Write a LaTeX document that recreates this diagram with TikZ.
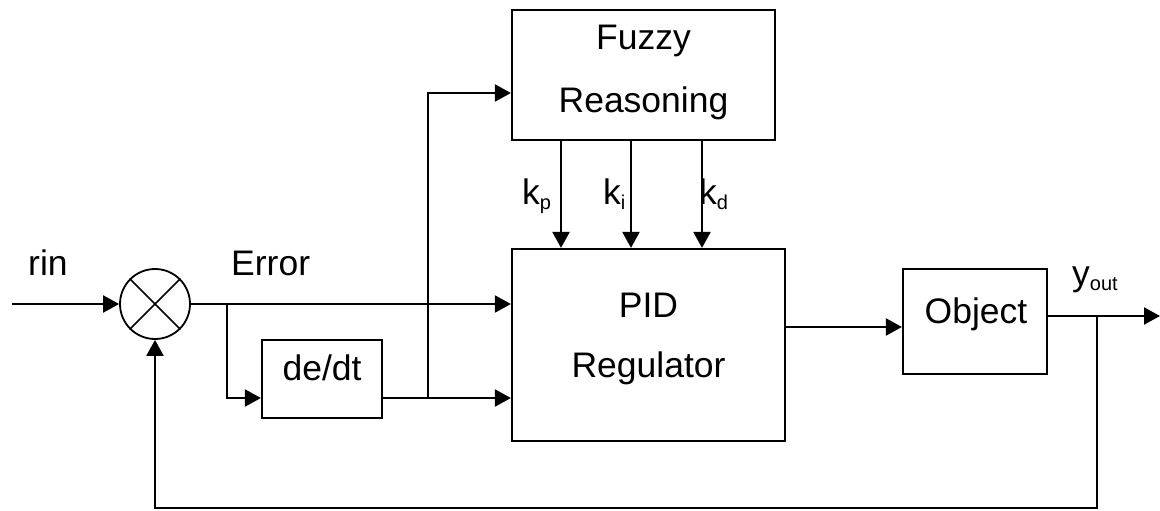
\documentclass[tikz,border=0pt]{standalone}
\usepackage{fontspec}
\setmainfont{Liberation Sans}
\usetikzlibrary{arrows.meta,calc}
\newcommand{\subtxt}[1]{\raisebox{-5pt}{\fontsize{20}{20}\selectfont #1}}
\begin{document}
\begin{tikzpicture}[x=1pt,y=-1pt,
  blk/.style={draw, line width=2.2pt, rectangle, inner sep=0pt},
  arr/.style={line width=2.2pt, -{Triangle[length=16pt,width=17pt]}},
  lbl/.style={anchor=base west, inner sep=0pt, font=\fontsize{35.5}{40}\selectfont},
  ctr/.style={anchor=base, inner sep=0pt, font=\fontsize{35.5}{40}\selectfont}]
\useasboundingbox (0,0) rectangle (1160,511);
% blocks
\node[blk, minimum width=263pt, minimum height=130pt] (fuzzy) at (643.5,75) {};
\node[blk, minimum width=273pt, minimum height=192pt] (pid) at (648.5,345) {};
\node[blk, minimum width=144pt, minimum height=105pt] (obj) at (975,321.5) {};
\node[blk, minimum width=120pt, minimum height=78pt] (dedt) at (322,379) {};
\node[draw, circle, line width=1.8pt, minimum size=70pt, inner sep=0pt] (sum) at (155,304) {};
\draw[line width=1.5pt] (sum.45) -- (sum.225) (sum.135) -- (sum.315);
% texts
\node[ctr] (tf1) at (643.5,50) {Fuzzy};
\node[ctr] (tf2) at (643.5,112) {Reasoning};
\node[ctr] (tp1) at (648.5,317) {PID};
\node[ctr] (tp2) at (648.5,377) {Regulator};
\node[ctr] (to) at (976,323) {Object};
\node[ctr] (td) at (322,380) {de/dt};
\node[lbl] (trin) at (28,275) {rin};
\node[lbl] (terr) at (231,275) {Error};
\node[lbl] (tkp) at (522,204) {k\subtxt{p}};
\node[lbl] (tki) at (603,204) {k\subtxt{i}};
\node[lbl] (tkd) at (699,204) {k\subtxt{d}};
\node[lbl] (ty) at (1072,285) {y\subtxt{out}};
% coordinates
\coordinate (rin) at (12,304);
\coordinate (b1) at (227,304);
\coordinate (b2) at (428,398);
\coordinate (fz) at (0,93);
\coordinate (po) at (0,327);
\coordinate (b3) at (1097,316);
\coordinate (yend) at (1160,316);
\coordinate (fb) at (155,508);
\coordinate (kp) at (561,0);
\coordinate (ki) at (631,0);
\coordinate (kd) at (702,0);
% connectors
\draw[arr] (rin) -- (sum.west);
\draw[arr] (sum.east) -- (sum.east -| pid.west);
\draw[arr] (b1) -- (b1 |- b2) -- (b2 -| dedt.west);
\draw[arr] (b2 -| dedt.east) -- (b2 -| pid.west);
\draw[arr] (b2) -- (b2 |- fz) -- (fz -| fuzzy.west);
\draw[arr] (fuzzy.south -| kp) -- (pid.north -| kp);
\draw[arr] (fuzzy.south -| ki) -- (pid.north -| ki);
\draw[arr] (fuzzy.south -| kd) -- (pid.north -| kd);
\draw[arr] (pid.east |- po) -- (obj.west |- po);
\draw[arr] (obj.east |- b3) -- (yend);
\draw[arr] (b3) -- (b3 |- fb) -- (fb) -- (sum.south);
\end{tikzpicture}
\end{document}
